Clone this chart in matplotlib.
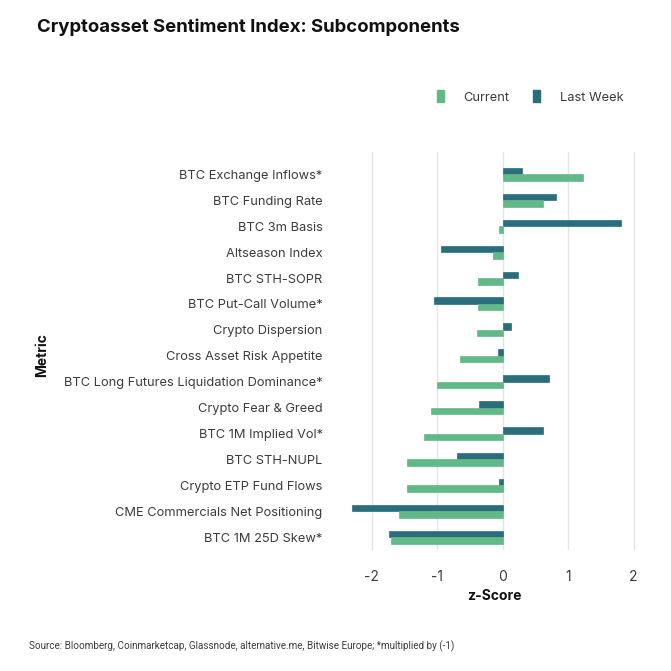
import numpy as np
import matplotlib
matplotlib.use("Agg")
import matplotlib.pyplot as plt
from matplotlib.patches import Patch

plt.rcParams['font.family'] = ['Inter', 'DejaVu Sans']

metrics = ["BTC Exchange Inflows*", "BTC Funding Rate", "BTC 3m Basis",
           "Altseason Index", "BTC STH-SOPR", "BTC Put-Call Volume*",
           "Crypto Dispersion", "Cross Asset Risk Appetite",
           "BTC Long Futures Liquidation Dominance*", "Crypto Fear & Greed",
           "BTC 1M Implied Vol*", "BTC STH-NUPL", "Crypto ETP Fund Flows",
           "CME Commercials Net Positioning", "BTC 1M 25D Skew*"]
current = [1.22, 0.61, -0.06, -0.15, -0.37, -0.38, -0.39, -0.66,
           -1.01, -1.09, -1.21, -1.47, -1.47, -1.59, -1.70]
last_week = [0.29, 0.82, 1.81, -0.95, 0.24, -1.05, 0.12, -0.07,
             0.71, -0.36, 0.62, -0.70, -0.05, -2.30, -1.73]
xticks = [-2, -1, 0, 1, 2]

c_cur = "#63b888"
c_lw = "#2a6e7e"
txt = "#3c3c3c"

fig = plt.figure(figsize=(6.71, 6.71), dpi=100)
ax = fig.add_axes([0.520, 0.180, 0.434, 0.593])

y = np.arange(len(metrics))
h = 0.25
ax.barh(y - h / 2, last_week, height=h, color=c_lw, edgecolor=c_lw, linewidth=0.5, zorder=3)
ax.barh(y + h / 2, current, height=h, color=c_cur, edgecolor=c_cur, linewidth=0.5, zorder=3)

ax.set_ylim(14.5, -0.85)
ax.set_xlim(-2.35, 2.1)
ax.set_yticks(y)
ax.set_yticklabels(metrics, fontsize=9.25, color=txt)
ax.set_xticks(xticks)
ax.set_xticklabels([str(v) for v in xticks], fontsize=10, color=txt)
ax.tick_params(axis='y', length=0, pad=19)
ax.tick_params(axis='x', length=0, pad=14)
ax.grid(axis='x', color="#e4e4e4", linewidth=1, zorder=0)
for s in ax.spines.values():
    s.set_visible(False)

ax.set_xlabel("z-Score", fontsize=10, fontweight='bold', color="#111111", labelpad=4)
fig.text(42 / 671, 1 - 355 / 671, "Metric", rotation=90, fontsize=10, fontweight='bold',
         color="#111111", ha='center', va='center')

fig.text(37 / 671, 1 - 27 / 671, "Cryptoasset Sentiment Index: Subcomponents",
         fontsize=13.4, fontweight='bold', color="#111111", ha='left', va='center')
fig.text(29 / 671, 1 - 646 / 671,
         "Source: Bloomberg, Coinmarketcap, Glassnode, alternative.me, Bitwise Europe; *multiplied by (-1)",
         fontsize=7.1, color=txt, ha='left', va='center', family=['Roboto', 'DejaVu Sans'])

handles = [Patch(facecolor=c_cur, edgecolor=c_cur), Patch(facecolor=c_lw, edgecolor=c_lw)]
fig.legend(handles, ["Current", "Last Week"], loc='center', bbox_to_anchor=(530 / 671, 1 - 97 / 671),
           ncol=2, frameon=False, fontsize=9.25, handlelength=0.6, handleheight=1.0,
           handletextpad=1.5, columnspacing=1.8, labelcolor=txt)

fig.savefig("out.png", dpi=100, facecolor="white")
